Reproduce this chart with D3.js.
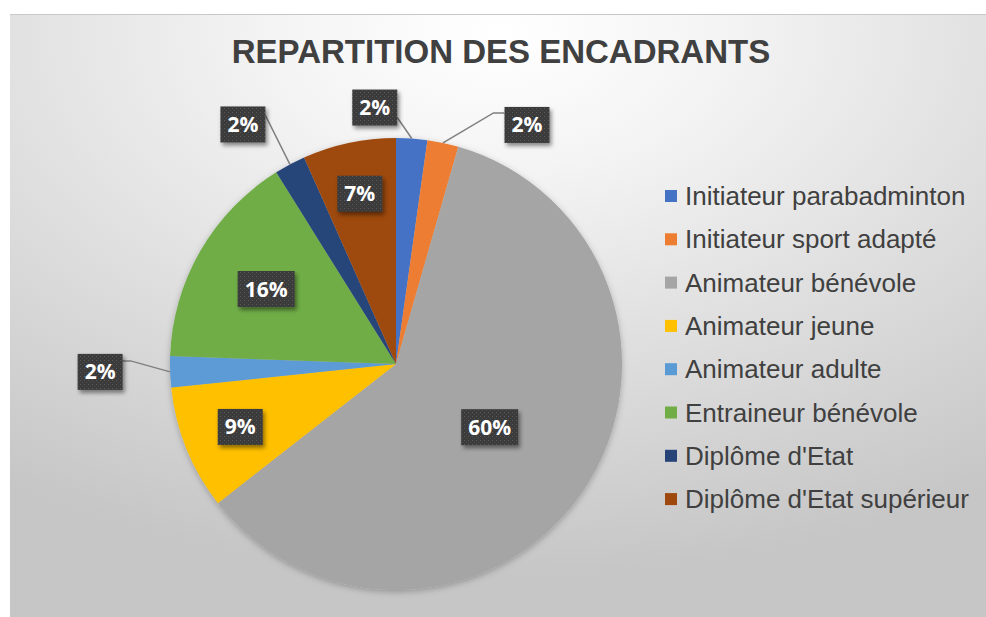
<!DOCTYPE html>
<html>
<head>
<meta charset="utf-8">
<script src="https://cdn.jsdelivr.net/npm/d3@7/dist/d3.min.js"></script>
<style>
  html, body { margin: 0; padding: 0; background: #ffffff; }
  svg { display: block; }
</style>
</head>
<body>
<svg id="chart" width="986" height="617"></svg>
<script>
// ---------------- data ----------------
const title = "REPARTITION DES ENCADRANTS";
const categories = [
  "Initiateur parabadminton",
  "Initiateur sport adapté",
  "Animateur bénévole",
  "Animateur jeune",
  "Animateur adulte",
  "Entraineur bénévole",
  "Diplôme d'Etat",
  "Diplôme d'Etat supérieur"
];
const values = [1, 1, 27, 4, 1, 7, 1, 3];
const colors = ["#4472C4", "#ED7D31", "#A5A5A5", "#FFC000", "#5B9BD5", "#70AD47", "#264478", "#9E480E"];

// ---------------- layout ----------------
const W = 986, H = 617;
const cx = 396, cy = 364, R = 226;
// placement of outside labels relative to the slice's outer point (layout only)
const outsideLayout = {
  0: { dx: -37, dy: -31, side: "right", ady: 10, elbow: 0 },
  1: { dx: 84, dy: -18, side: "left", ady: -12, elbow: 11 },
  4: { dx: -70, dy: 0, side: "right", ady: -11, elbow: 8 },
  6: { dx: -47, dy: -40, side: "right", ady: -9, elbow: 0 }
};

const svg = d3.select("#chart");
const defs = svg.append("defs");

// background gradient
const bg = defs.append("radialGradient").attr("id", "bgGrad")
  .attr("cx", "0.5").attr("cy", "0.03").attr("r", "0.9").attr("fx", "0.5").attr("fy", "0.03");
bg.append("stop").attr("offset", "0").attr("stop-color", "#ffffff");
bg.append("stop").attr("offset", "0.25").attr("stop-color", "#f4f4f4");
bg.append("stop").attr("offset", "1").attr("stop-color", "#c6c6c6");

// dotted label pattern
const pat = defs.append("pattern").attr("id", "dots").attr("width", 4).attr("height", 4)
  .attr("patternUnits", "userSpaceOnUse");
pat.append("rect").attr("width", 4).attr("height", 4).attr("fill", "#3a3a3a");
pat.append("rect").attr("x", 0).attr("y", 0).attr("width", 1).attr("height", 1).attr("fill", "#5a5a5a");
pat.append("rect").attr("x", 2).attr("y", 2).attr("width", 1).attr("height", 1).attr("fill", "#4c4c4c");

// shadows
const sh = defs.append("filter").attr("id", "boxShadow").attr("x", "-30%").attr("y", "-30%").attr("width", "170%").attr("height", "170%");
sh.append("feDropShadow").attr("dx", 2).attr("dy", 3).attr("stdDeviation", 2)
  .attr("flood-color", "#000").attr("flood-opacity", 0.45);
const psh = defs.append("filter").attr("id", "pieShadow").attr("x", "-10%").attr("y", "-10%").attr("width", "120%").attr("height", "120%");
psh.append("feDropShadow").attr("dx", 0).attr("dy", 2).attr("stdDeviation", 3)
  .attr("flood-color", "#000").attr("flood-opacity", 0.25);

// chart area background
svg.append("rect").attr("x", 10).attr("y", 14).attr("width", W - 10).attr("height", H - 14)
  .attr("fill", "url(#bgGrad)");
svg.append("line").attr("x1", 10).attr("x2", W).attr("y1", 14.5).attr("y2", 14.5)
  .attr("stroke", "#c8c8c8").attr("stroke-width", 1);

// title
svg.append("text")
  .attr("x", 501).attr("y", 63)
  .attr("text-anchor", "middle")
  .attr("font-family", "'Liberation Sans', Arial, sans-serif")
  .attr("font-weight", "bold")
  .attr("font-size", 33)
  .attr("fill", "#404040")
  .text(title);

// pie
const total = d3.sum(values);
const pie = d3.pie().sort(null).value(d => d.v);
const data = categories.map((c, i) => ({ c, v: values[i], i }));
const arcs = pie(data);
const arc = d3.arc().innerRadius(0).outerRadius(R);

const g = svg.append("g").attr("transform", `translate(${cx},${cy})`);
g.append("g").attr("filter", "url(#pieShadow)")
  .selectAll("path").data(arcs).enter().append("path")
  .attr("d", arc)
  .attr("fill", d => colors[d.data.i]);

// labels
const fmt = v => Math.round(v / total * 100) + "%";
const labelFont = "'Open Sans', 'DejaVu Sans', sans-serif";
const labelSize = 21;
const boxH = 36;

function measure(txt) {
  const t = svg.append("text").attr("font-family", labelFont).attr("font-weight", "bold")
    .attr("font-size", labelSize).text(txt);
  const w = t.node().getComputedTextLength();
  t.remove();
  return w;
}

const labelG = svg.append("g");
arcs.forEach(a => {
  const frac = a.data.v / total;
  const mid = (a.startAngle + a.endAngle) / 2;
  const txt = fmt(a.data.v);
  const bw = Math.round(measure(txt) + 14);
  let bx, by;
  if (outsideLayout[a.data.i]) {
    const L = outsideLayout[a.data.i];
    const ax = cx + R * Math.sin(mid), ay = cy - R * Math.cos(mid);
    bx = ax + L.dx; by = ay + L.dy;
    const attX = L.side === "right" ? bx + bw / 2 : bx - bw / 2;
    const attY = by + L.ady;
    const elbX = L.side === "right" ? attX + L.elbow : attX - L.elbow;
    labelG.append("path")
      .attr("d", d3.line()([[ax, ay], [elbX, attY], [attX, attY]]))
      .attr("fill", "none").attr("stroke", "#7f7f7f").attr("stroke-width", 1.5);
  } else {
    const f = frac > 0.3 ? 0.5 : 0.85 - 1.2 * frac;
    bx = cx + R * f * Math.sin(mid); by = cy - R * f * Math.cos(mid);
  }
  labelG.append("rect")
    .attr("x", bx - bw / 2).attr("y", by - boxH / 2)
    .attr("width", bw).attr("height", boxH)
    .attr("fill", "url(#dots)")
    .attr("filter", "url(#boxShadow)");
  labelG.append("text")
    .attr("x", bx).attr("y", by + 7.5)
    .attr("text-anchor", "middle")
    .attr("font-family", labelFont).attr("font-weight", "bold").attr("font-size", labelSize)
    .attr("fill", "#ffffff")
    .text(txt);
});

// legend
const legY0 = 196, legStep = 43.3;
const leg = svg.append("g");
categories.forEach((c, i) => {
  const y = legY0 + i * legStep;
  leg.append("rect").attr("x", 665).attr("y", y - 6).attr("width", 12).attr("height", 12)
    .attr("fill", colors[i]);
  leg.append("text").attr("x", 685).attr("y", y + 9)
    .attr("font-family", "'Liberation Sans', Arial, sans-serif")
    .attr("font-size", 26).attr("fill", "#404040")
    .text(c);
});
</script>
</body>
</html>
